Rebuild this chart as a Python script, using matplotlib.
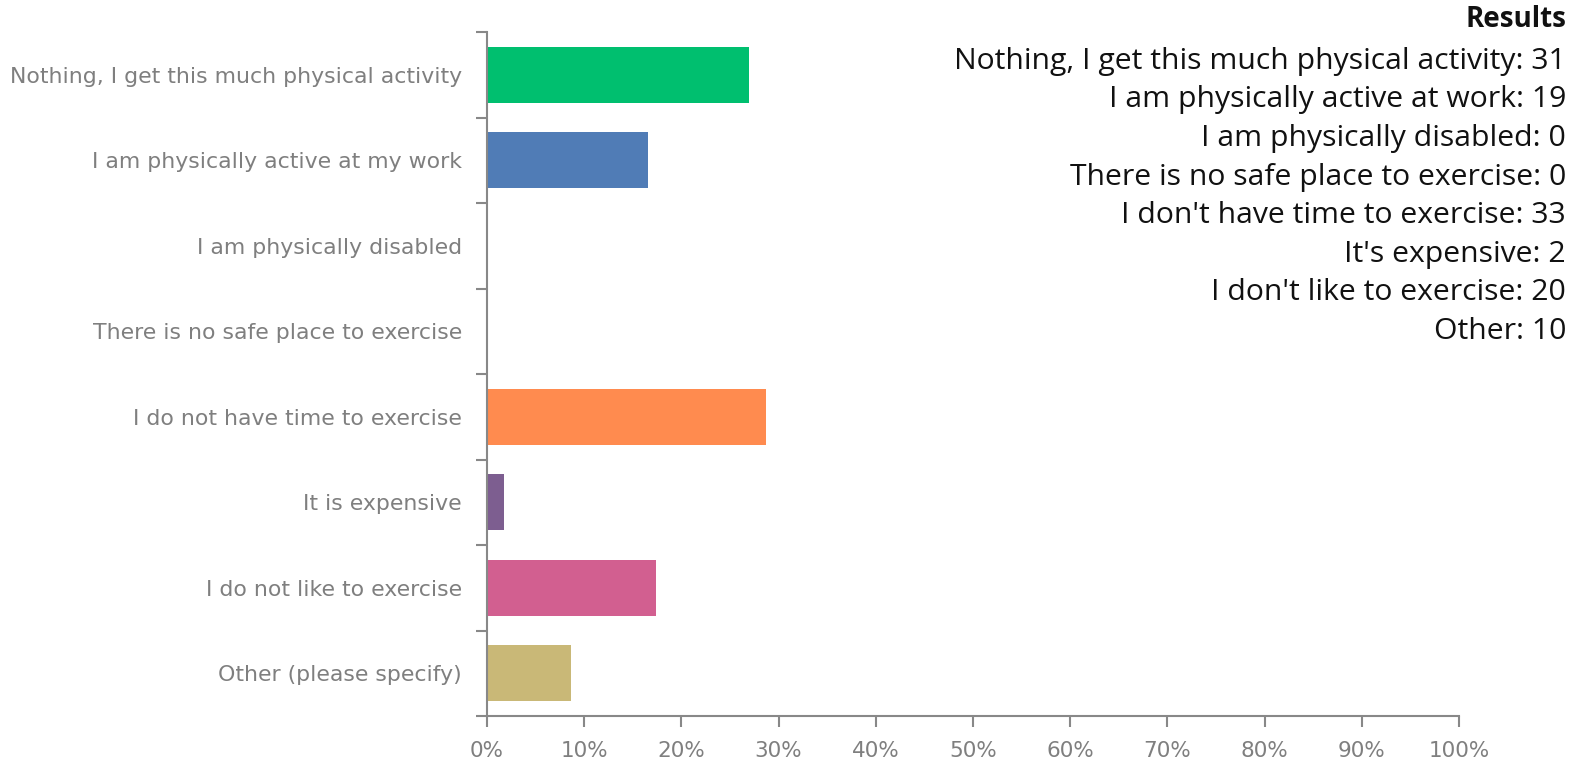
import matplotlib.pyplot as plt
from matplotlib.ticker import FixedLocator, PercentFormatter

categories = [
    "Nothing, I get this much physical activity",
    "I am physically active at my work",
    "I am physically disabled",
    "There is no safe place to exercise",
    "I do not have time to exercise",
    "It is expensive",
    "I do not like to exercise",
    "Other (please specify)",
]
result_labels = [
    "Nothing, I get this much physical activity",
    "I am physically active at work",
    "I am physically disabled",
    "There is no safe place to exercise",
    "I don't have time to exercise",
    "It's expensive",
    "I don't like to exercise",
    "Other",
]
counts = [31, 19, 0, 0, 33, 2, 20, 10]
colors = ["#00BF6F", "#507CB6", "#6BC8CD", "#F9BE00", "#FF8B4F", "#7D5E90", "#D25F90", "#C9B877"]

total = sum(counts)
shares = [100 * c / total for c in counts]

fig = plt.figure(figsize=(15.81, 7.65), dpi=100)
ax = fig.add_axes([0.308, 0.064, 0.6148, 0.894])

ypos = list(range(len(categories)))
ax.barh(ypos, shares, height=0.655, color=colors)
ax.set_ylim(len(categories) - 0.5, -0.5)
ax.set_xlim(0, 100)

ax.set_yticks(ypos)
ax.set_yticklabels(categories)
ax.yaxis.set_minor_locator(FixedLocator([i - 0.5 for i in range(len(categories) + 1)]))
ax.tick_params(axis="y", which="major", length=0, pad=18, labelsize=15.8, labelcolor="#7f7f7f")
ax.tick_params(axis="y", which="minor", length=8, width=1.5, color="#888888")

ax.set_xticks(range(0, 101, 10))
ax.xaxis.set_major_formatter(PercentFormatter(decimals=0))
ax.tick_params(axis="x", length=8, width=1.5, color="#888888", pad=10, labelsize=15.5, labelcolor="#7f7f7f")

for side in ["top", "right"]:
    ax.spines[side].set_visible(False)
for side in ["left", "bottom"]:
    ax.spines[side].set_color("#888888")
    ax.spines[side].set_linewidth(1.5)

# results panel, top right
fig.text(0.9905, 0.975, "Results", ha="right", va="center", fontsize=20,
         fontweight="bold", family="Open Sans", color="#111111")
for i, (lab, n) in enumerate(zip(result_labels, counts)):
    fig.text(0.9905, 0.920 - i * 0.0505, f"{lab}: {n}", ha="right", va="center",
             fontsize=21.7, family="Open Sans", color="#111111")

fig.savefig("out.png", dpi=100)
